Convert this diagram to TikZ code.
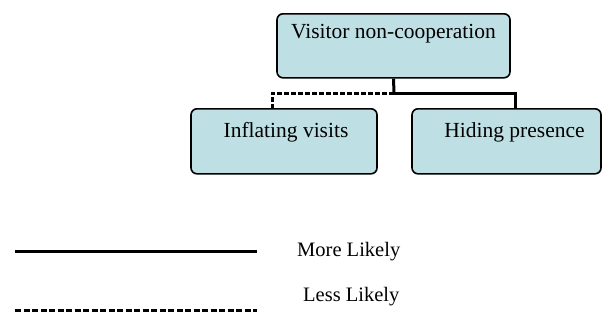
\documentclass[tikz,border=0pt]{standalone}
\usepackage{fontspec}
\setmainfont{Liberation Serif}
\definecolor{boxfill}{RGB}{190,224,228}
\begin{document}
\begin{tikzpicture}[x=1pt,y=-1pt,
  box/.style={draw=black, line width=1.6pt, fill=boxfill, rounded corners=6pt,
    font=\fontsize{21.5}{24}\selectfont, anchor=north, inner sep=0pt},
  likely/.style={line width=3pt},
  unlikely/.style={line width=3pt, dash pattern=on 5pt off 2pt},
  legendtext/.style={font=\fontsize{20.5}{24}\selectfont, anchor=west, inner sep=0pt}]
  \useasboundingbox (0,0) rectangle (609,322);

  % outcome boxes
  \node[box, minimum width=233pt, text height=25pt, text depth=39pt] (top) at (393.5,13) {Visitor non-cooperation};
  \node[box, minimum width=186pt, text height=29pt, text depth=36pt] (left) at (284,108) {\hspace{4pt}Inflating visits};
  \node[box, minimum width=189pt, text height=29pt, text depth=36pt] (right) at (506.5,108) {\hspace{16pt}Hiding presence};

  % branch point and connectors
  \coordinate (j) at (394,93);
  \draw[likely] (top.south) -- (j);
  \draw[likely] (j) -| ([xshift=8.5pt]right.north);
  \draw[unlikely] (j) -| ([xshift=-12pt]left.north);

  % legend
  \coordinate (m1) at (15,251);
  \coordinate (m2) at (257,251);
  \coordinate (l1) at (15,310);
  \coordinate (l2) at (257,310);
  \draw[likely] (m1) -- (m2);
  \draw[unlikely, dash pattern=on 6pt off 2.5pt] (l1) -- (l2);
  \node[legendtext] (more) at (297,252) {More Likely};
  \node[legendtext] (less) at (303,297) {Less Likely};
\end{tikzpicture}
\end{document}
